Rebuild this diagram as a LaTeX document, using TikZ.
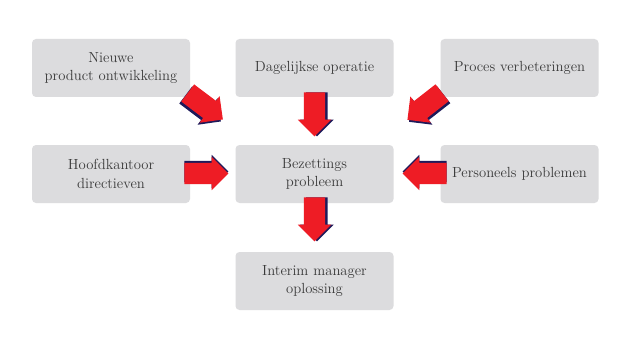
\documentclass[tikz,border=0pt]{standalone}
\usepackage{xcolor}
\usepackage{tikz}
\usetikzlibrary{positioning,shapes.arrows,shadows}
\definecolor{BoxGray}{HTML}{DCDCDE}
\definecolor{TextGray}{HTML}{3A3A3A}
\definecolor{ArrowRed}{HTML}{EE1C25}
\definecolor{ArrowNavy}{HTML}{1E1A5A}

\begin{document}
\begin{tikzpicture}[
  x=0.75pt,
  y=-0.75pt,
  box/.style={
    rectangle,
    rounded corners=3pt,
    fill=BoxGray,
    text=TextGray,
    minimum width=118.5pt,
    minimum height=43.5pt,
    text width=112pt,
    align=center,
    inner sep=0pt,
    font=\fontsize{11}{14}\selectfont
  },
  blockarrow/.style={
    single arrow,
    fill=ArrowRed,
    minimum width=25pt,
    single arrow head extend=4pt,
    single arrow head indent=0pt,
    inner sep=0pt,
    text height=8pt,
    text depth=6pt,
    minimum height=33pt
  },
  navyshadow/.style 2 args={
    general shadow={fill=ArrowNavy, shadow xshift=#1, shadow yshift=#2}
  },
]
\useasboundingbox[fill=white] (0,0) rectangle (630,349);

% boxes
\node[box] (product) at (111,68) {Nieuwe\\product ontwikkeling};
\node[box] (daily) at (314.5,68) {Dagelijkse operatie};
\node[box] (process) at (519.5,68) {Proces verbeteringen};
\node[box] (office) at (111,174) {Hoofdkantoor\\directieven};
\node[box] (staffing) at (314.5,174) {Bezettings\\probleem};
\node[box] (personnel) at (519.5,174) {Personeels problemen};
\node[box] (interim) at (314.5,281) {Interim manager\\oplossing};

% arrows
\node[blockarrow,navyshadow={-1.5pt}{-1.5pt},rotate=-37] (arrow-product) at (201,103) {};
\node[blockarrow,navyshadow={1.8pt}{0pt},rotate=-90] (arrow-daily) at (314.5,109) {};
\node[blockarrow,navyshadow={1.2pt}{-1.5pt},rotate=-142] (arrow-process) at (429,103) {};
\node[blockarrow,navyshadow={0pt}{1.5pt}] (arrow-office) at (201,173.5) {};
\node[blockarrow,navyshadow={0pt}{1.5pt},rotate=180] (arrow-personnel) at (430,173.5) {};
\node[blockarrow,navyshadow={1.8pt}{0pt},rotate=-90] (arrow-staffing) at (314.5,214) {};
\end{tikzpicture}
\end{document}
